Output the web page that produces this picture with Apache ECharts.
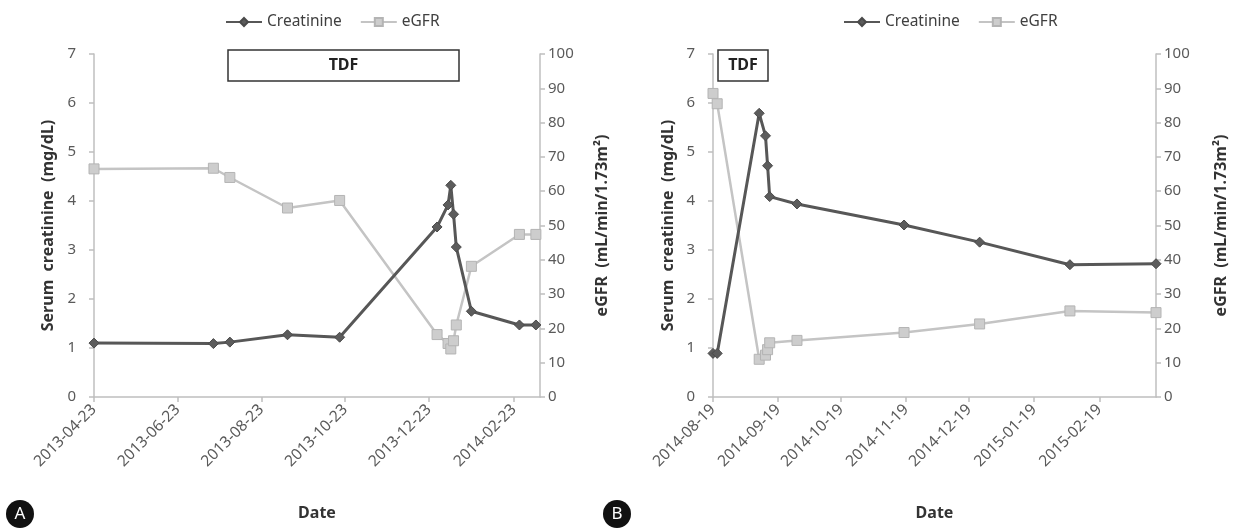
<!DOCTYPE html>
<html><head><meta charset="utf-8">
<script src="https://cdn.jsdelivr.net/npm/echarts@6/dist/echarts.min.js"></script>
<style>html,body{margin:0;padding:0;background:#fff}#c{width:1240px;height:528px}</style>
</head><body><div id="c"></div><script>
// ---- Panel A data ----
const datesA = ['2013-04-23','2013-07-19','2013-07-31','2013-09-11','2013-10-19','2013-12-29','2014-01-06','2014-01-08','2014-01-10','2014-01-12','2014-01-23','2014-02-27','2014-03-11'];
const creatinineA = [1.10,1.09,1.12,1.27,1.22,3.47,3.92,4.32,3.73,3.06,1.75,1.47,1.47];
const egfrA = [66.5,66.7,64.0,55.1,57.3,18.2,15.6,14.0,16.4,21.0,38.1,47.4,47.4];
const ticksA = ['2013-04-23','2013-06-23','2013-08-23','2013-10-23','2013-12-23','2014-02-23'];
const rangeA = ['2013-04-23','2014-03-14'];
// ---- Panel B data ----
const datesB = ['2014-08-19','2014-08-21','2014-09-10','2014-09-13','2014-09-14','2014-09-15','2014-09-28','2014-11-18','2014-12-24','2015-02-05','2015-03-18'];
const creatinineB = [0.89,0.89,5.79,5.33,4.72,4.09,3.94,3.51,3.16,2.70,2.72];
const egfrB = [88.5,85.5,11.0,12.2,13.8,15.8,16.5,18.8,21.3,25.1,24.6];
const ticksB = ['2014-08-19','2014-09-19','2014-10-19','2014-11-19','2014-12-19','2015-01-19','2015-02-19'];
const rangeB = ['2014-08-19','2015-03-18'];

const creatTicks = [0,1,2,3,4,5,6,7];
const egfrTicks = [0,10,20,30,40,50,60,70,80,90,100];

const DAY = 86400000;
function ts(s){const p=s.split('-');return Date.UTC(+p[0],+p[1]-1,+p[2]);}
function dayOf(s, origin){return Math.round((ts(s)-ts(origin))/DAY);}
function fmt(days, origin){const d=new Date(ts(origin)+Math.round(days)*DAY);const p=n=>(n<10?'0':'')+n;return d.getUTCFullYear()+'-'+p(d.getUTCMonth()+1)+'-'+p(d.getUTCDate());}

const FONT = '"Noto Sans", "Open Sans", sans-serif';
const AX = '#bfbfbf';
const LBL = {color:'#5a5a5a', fontSize:15, fontFamily:FONT};
const NAME = {color:'#333', fontSize:16, fontWeight:'bold', fontFamily:FONT};

function xAx(grid, ticks, range){
  const o = range[0];
  const tv = ticks.map(t=>dayOf(t,o));
  return {type:'value', gridIndex:grid, min:0, max:dayOf(range[1],o),
    name:'Date', nameLocation:'middle', nameGap:108, nameTextStyle:NAME,
    axisLine:{lineStyle:{color:AX,width:1.5}},
    axisTick:{show:true, length:5, lineStyle:{color:AX,width:1.5}, customValues:tv},
    axisLabel:Object.assign({}, LBL, {fontSize:15.5, rotate:45, margin:10, customValues:tv, formatter:v=>fmt(v,o)}),
    splitLine:{show:false}};
}
function yAx(grid, pos, ticks, step, name, gap, margin){
  return {type:'value', gridIndex:grid, position:pos, min:ticks[0], max:ticks[ticks.length-1], interval:step,
    name, nameLocation:'middle', nameRotate:90, nameGap:gap, nameTextStyle:NAME,
    axisLine:{show:true, lineStyle:{color:AX,width:1.5}},
    axisTick:{show:true, length:5, lineStyle:{color:AX,width:1.5}},
    axisLabel:Object.assign({}, LBL, {margin}),
    splitLine:{show:false}};
}
function pair(dates, vals, o){return dates.map((d,i)=>[dayOf(d,o), vals[i]]);}

function creatSeries(xi, yi, dates, vals, o){
  return {name:'Creatinine', type:'line', xAxisIndex:xi, yAxisIndex:yi, data:pair(dates,vals,o),
    symbol:'diamond', symbolSize:10, z:4,
    lineStyle:{color:'#575757', width:3}, itemStyle:{color:'#5c5c5c', borderColor:'#4a4a4a', borderWidth:1}};
}
function egfrSeries(xi, yi, dates, vals, o){
  return {name:'eGFR', type:'line', xAxisIndex:xi, yAxisIndex:yi, data:pair(dates,vals,o),
    symbol:'rect', symbolSize:10, z:3,
    lineStyle:{color:'#c4c4c4', width:2.5}, itemStyle:{color:'#cdcdcd', borderColor:'#b4b4b4', borderWidth:1}};
}

const chart = echarts.init(document.getElementById('c'), null, {renderer:'canvas'});
const legendCommon = {itemWidth:36, itemHeight:10, itemGap:18, textStyle:{color:'#404040', fontSize:15.5, fontFamily:FONT}, data:['Creatinine','eGFR'], selectedMode:false};
chart.setOption({
  animation:false,
  backgroundColor:'#fff',
  legend:[
    Object.assign({left:220, top:9}, legendCommon),
    Object.assign({left:838, top:9}, legendCommon)
  ],
  grid:[
    {left:94, top:54, width:446, height:343},
    {left:713, top:54, width:443, height:343}
  ],
  xAxis:[xAx(0, ticksA, rangeA), xAx(1, ticksB, rangeB)],
  yAxis:[
    yAx(0,'left',creatTicks,1,'Serum  creatinine  (mg/dL)',38,18),
    yAx(0,'right',egfrTicks,10,'eGFR  (mL/min/1.73m\u00B2)',54,8),
    yAx(1,'left',creatTicks,1,'Serum  creatinine  (mg/dL)',37,18),
    yAx(1,'right',egfrTicks,10,'eGFR  (mL/min/1.73m\u00B2)',57,8)
  ],
  series:[
    egfrSeries(0,1,datesA,egfrA,rangeA[0]),
    creatSeries(0,0,datesA,creatinineA,rangeA[0]),
    egfrSeries(1,3,datesB,egfrB,rangeB[0]),
    creatSeries(1,2,datesB,creatinineB,rangeB[0])
  ],
  graphic:[
    {type:'rect', shape:{x:228,y:50,width:231,height:31}, style:{fill:'#fff', stroke:'#333', lineWidth:1.5}, z:10},
    {type:'text', x:343.5, y:65.5, style:{text:'TDF', font:'bold 16px '+FONT, fill:'#222', textAlign:'center', textVerticalAlign:'middle'}, z:11},
    {type:'rect', shape:{x:718,y:50,width:50,height:31}, style:{fill:'#fff', stroke:'#333', lineWidth:1.5}, z:10},
    {type:'text', x:743, y:65.5, style:{text:'TDF', font:'bold 16px '+FONT, fill:'#222', textAlign:'center', textVerticalAlign:'middle'}, z:11},
    {type:'circle', shape:{cx:20,cy:514,r:14}, style:{fill:'#111'}},
    {type:'text', x:20, y:514, style:{text:'A', font:'17px '+FONT, fill:'#fff', textAlign:'center', textVerticalAlign:'middle'}},
    {type:'circle', shape:{cx:617,cy:514,r:14}, style:{fill:'#111'}},
    {type:'text', x:617, y:514, style:{text:'B', font:'17px '+FONT, fill:'#fff', textAlign:'center', textVerticalAlign:'middle'}}
  ]
});
</script></body></html>
